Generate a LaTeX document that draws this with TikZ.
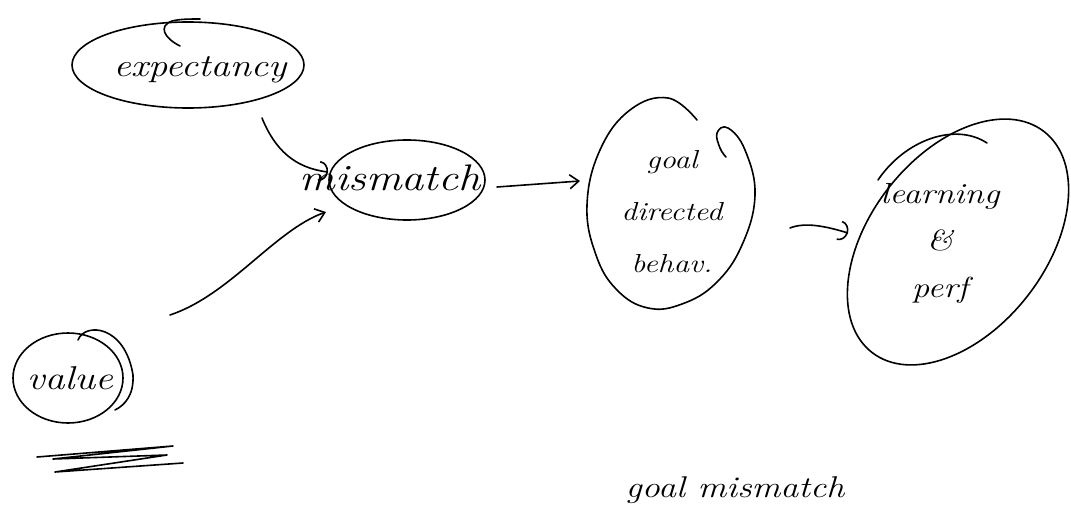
\documentclass[tikz,border=0pt]{standalone}
\usepackage{graphicx}
\usetikzlibrary{arrows.meta,shapes.geometric}
\newcommand{\hw}[1]{\scalebox{1.2}[1]{#1}}
\begin{document}
\begin{tikzpicture}[x=1pt,y=-1pt,
  pen/.style={line width=1.6pt,line cap=round,line join=round},
  arr/.style={pen,-{Straight Barb[length=9pt,width=14pt]}},
  carr/.style={pen,-{Arc Barb[length=9pt,width=20pt]}},
  hand/.style={align=center,inner sep=1pt}]
\useasboundingbox (0,0) rectangle (1071,527);
% ellipses
\draw[pen] (188,65) ellipse[x radius=116,y radius=43];
\draw[pen] (180,46) .. controls (164,38) and (158,26) .. (172,21) .. controls (180,19) and (190,19) .. (200,19);
\draw[pen] (407,180) ellipse[x radius=78,y radius=40];
\draw[pen] plot[smooth,tension=0.7] coordinates {(697,120) (668,98) (630,110) (600,150) (587,205) (596,255) (617,290) (648,308) (682,304) (716,283) (742,245) (755,195) (745,150) (728,128) (717,133) (720,148) (726,157)};
\draw[pen,rotate around={52:(958,242)}] (958,242) ellipse[x radius=140,y radius=88];
\draw[pen] (987,143) .. controls (955,122) and (905,140) .. (878,180);
\draw[pen] (68,378) ellipse[x radius=55,y radius=45];
\draw[pen] (78,340) .. controls (85,322) and (125,325) .. (133,375) .. controls (134,395) and (125,405) .. (115,410);
% texts
\node[hand,font=\fontsize{32}{36}\selectfont\itshape] (exp) at (200,70) {\hw{expectancy}};
\node[hand,font=\fontsize{37}{40}\selectfont\itshape] (mis) at (390,178) {\hw{mismatch}};
\node[hand,font=\fontsize{26}{52}\selectfont\itshape] (goal) at (672,212) {\hw{goal}\\\hw{directed}\\\hw{behav.}};
\node[hand,font=\fontsize{29}{47}\selectfont\itshape] (learn) at (940,243) {\hw{learning}\\\hw{\&}\\\hw{perf}};
\node[hand,font=\fontsize{33}{36}\selectfont\itshape] (val) at (70,378) {\hw{value}};
\node[hand,font=\fontsize{30}{33}\selectfont\itshape] (gm) at (735,490) {\hw{goal mismatch}};
% connector ends
\coordinate (e1) at (262,118);
\coordinate (m1) at (328,172);
\coordinate (v1) at (170,315);
\coordinate (m2) at (326,212);
\coordinate (m3) at (497,187);
\coordinate (g1) at (580,181);
\coordinate (g2) at (790,228);
\coordinate (l1) at (848,233);
\draw[carr] (e1) .. controls (275,150) and (295,168) .. (m1);
\draw[arr] (v1) .. controls (230,295) and (275,230) .. (m2);
\draw[arr] (m3) -- (g1);
\draw[carr] (g2) .. controls (805,222) and (825,226) .. (l1);
% underline scribble
\draw[pen] (37,457) -- (173,446) -- (53,459) -- (167,455) -- (55,472) -- (183,463);
\end{tikzpicture}
\end{document}
